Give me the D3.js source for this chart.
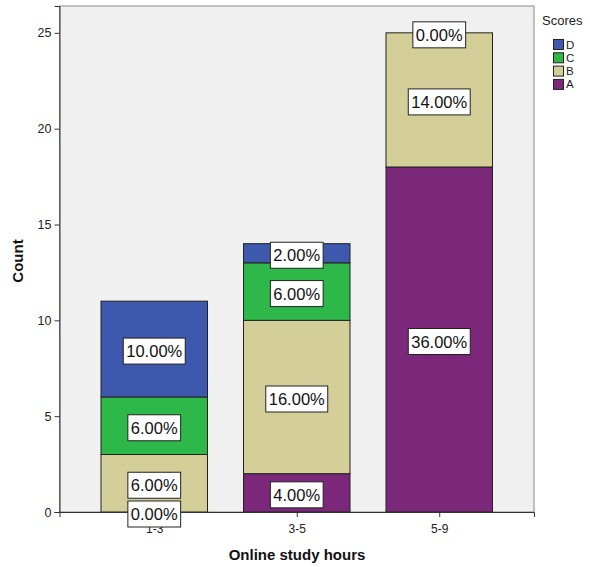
<!DOCTYPE html>
<html><head><meta charset="utf-8">
<script src="https://cdn.jsdelivr.net/npm/d3@7"></script>
<style>body{margin:0;background:#fff}svg{display:block}</style>
</head><body>
<svg id="c" width="590" height="567"></svg>
<script>
const categories = ["1-3", "3-5", "5-9"];
const scores = ["A", "B", "C", "D"];
const countA = [0, 2, 18];
const countB = [3, 8, 7];
const countC = [3, 3, 0];
const countD = [5, 1, 0];
const labelA = ["0.00%", "4.00%", "36.00%"];
const labelB = ["6.00%", "16.00%", "14.00%"];
const labelC = ["6.00%", "6.00%", "0.00%"];
const labelD = ["10.00%", "2.00%", null];
const yTicks = [0, 5, 10, 15, 20, 25];
const colors = {A: "#7B287B", B: "#D4CF99", C: "#2EB84A", D: "#3D58AD"};

const svg = d3.select("#c");
const L = 59.5, R = 534, T = 6, B = 512;
const x = d3.scalePoint().domain(categories).range([L, R]).padding(0.665);
const y = d3.scaleLinear().domain([0, 26.4]).range([B, T]);
const bw = 106.5;
const FONT = "Arial, 'Liberation Sans', sans-serif";

svg.append("rect").attr("x", L).attr("y", T).attr("width", R - L).attr("height", B - T)
  .attr("fill", "#F0F0F0").attr("stroke", "#888").attr("stroke-width", 1);

const counts = {A: countA, B: countB, C: countC, D: countD};
const labels = {A: labelA, B: labelB, C: labelC, D: labelD};
const data = categories.map((c, i) => {
  const o = {cat: c};
  scores.forEach(s => o[s] = counts[s][i]);
  return o;
});
const stack = d3.stack().keys(scores)(data);

const g = svg.append("g");
stack.forEach(layer => {
  g.selectAll(null).data(layer.filter(d => d[1] - d[0] > 0)).enter().append("rect")
    .attr("x", d => x(d.data.cat) - bw / 2)
    .attr("y", d => y(d[1]))
    .attr("width", bw)
    .attr("height", d => y(d[0]) - y(d[1]))
    .attr("fill", colors[layer.key])
    .attr("stroke", "#222").attr("stroke-width", 1);
});

// axes
const yAxis = d3.axisLeft(y).tickValues(yTicks).tickSize(5).tickPadding(3);
const ya = svg.append("g").attr("transform", `translate(${L},0)`).call(yAxis);
ya.select(".domain").attr("stroke", "#333");
ya.selectAll("text").attr("font-family", FONT).attr("font-size", 12.5).attr("fill", "#222");
ya.selectAll("line").attr("stroke", "#333");

const xAxis = d3.axisBottom(x).tickSize(5).tickPadding(7);
const xa = svg.append("g").attr("transform", `translate(0,${B})`).call(xAxis);
xa.select(".domain").attr("stroke", "#333");
xa.selectAll("text").attr("font-family", FONT).attr("font-size", 12).attr("fill", "#222");
xa.selectAll("line").attr("stroke", "#333");

// value labels
const lab = svg.append("g");
const boxes = [];
stack.forEach(layer => {
  layer.forEach((d, i) => {
    const t = labels[layer.key][i];
    if (!t) return;
    boxes.push({x: x(d.data.cat), y: y((d[0] + d[1]) / 2) + 2, t: t});
  });
});
boxes.forEach(b => {
  const gg = lab.append("g");
  const txt = gg.append("text").attr("x", b.x).attr("y", b.y)
    .attr("text-anchor", "middle").attr("dominant-baseline", "central")
    .attr("font-family", FONT).attr("font-size", 16.5)
    .attr("fill", "#111").text(b.t);
  const w = txt.node().getComputedTextLength();
  gg.insert("rect", "text").attr("x", b.x - w / 2 - 3).attr("y", b.y - 13)
    .attr("width", w + 6).attr("height", 26)
    .attr("fill", "#fff").attr("stroke", "#222").attr("stroke-width", 1);
});

// axis titles
svg.append("text").attr("x", 297).attr("y", 560).attr("text-anchor", "middle")
  .attr("font-family", FONT).attr("font-weight", "bold")
  .attr("font-size", 15).attr("fill", "#111").text("Online study hours");
svg.append("text").attr("transform", `translate(23,${(T + B) / 2 + 2}) rotate(-90)`).attr("text-anchor", "middle")
  .attr("font-family", FONT).attr("font-weight", "bold")
  .attr("font-size", 15).attr("fill", "#111").text("Count");

// legend
const lg = svg.append("g");
lg.append("text").attr("x", 542).attr("y", 25).attr("font-family", FONT)
  .attr("font-size", 13).attr("fill", "#222").text("Scores");
const legOrder = ["D", "C", "B", "A"];
legOrder.forEach((k, i) => {
  const cy = 44.5 + i * 13.3;
  lg.append("rect").attr("x", 553.5).attr("y", cy - 5).attr("width", 10).attr("height", 10)
    .attr("fill", colors[k]).attr("stroke", "#222").attr("stroke-width", 1);
  lg.append("text").attr("x", 566).attr("y", cy).attr("dominant-baseline", "central")
    .attr("font-family", FONT).attr("font-size", 11.5).attr("fill", "#222").text(k);
});
</script>
</body></html>
